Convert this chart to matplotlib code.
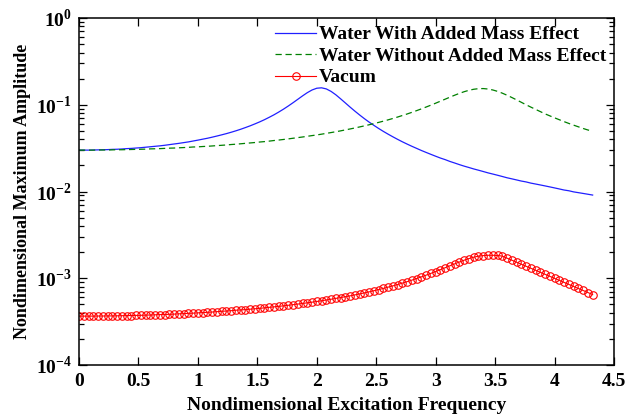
import matplotlib

matplotlib.use("Agg")
import matplotlib.pyplot as plt
import matplotlib.ticker as mticker
from matplotlib import rcParams

rcParams["font.family"] = ["Liberation Serif", "DejaVu Serif"]
rcParams["font.weight"] = "bold"
rcParams["mathtext.fontset"] = "custom"
rcParams["mathtext.rm"] = "Liberation Serif:bold"
rcParams["mathtext.bf"] = "Liberation Serif:bold"
rcParams["axes.unicode_minus"] = False

freq = [
    0.00, 0.04, 0.08, 0.12, 0.16, 0.20, 0.24, 0.28, 0.32, 0.36,
    0.40, 0.44, 0.48, 0.52, 0.56, 0.60, 0.64, 0.68, 0.72, 0.76,
    0.80, 0.84, 0.88, 0.92, 0.96, 1.00, 1.04, 1.08, 1.12, 1.16,
    1.20, 1.24, 1.28, 1.32, 1.36, 1.40, 1.44, 1.48, 1.52, 1.56,
    1.60, 1.64, 1.68, 1.72, 1.76, 1.80, 1.84, 1.88, 1.92, 1.96,
    2.00, 2.04, 2.08, 2.12, 2.16, 2.20, 2.24, 2.28, 2.32, 2.36,
    2.40, 2.44, 2.48, 2.52, 2.56, 2.60, 2.64, 2.68, 2.72, 2.76,
    2.80, 2.84, 2.88, 2.92, 2.96, 3.00, 3.04, 3.08, 3.12, 3.16,
    3.20, 3.24, 3.28, 3.32, 3.36, 3.40, 3.44, 3.48, 3.52, 3.56,
    3.60, 3.64, 3.68, 3.72, 3.76, 3.80, 3.84, 3.88, 3.92, 3.96,
    4.00, 4.04, 4.08, 4.12, 4.16, 4.20, 4.24, 4.28, 4.32,
]

# water, with added mass
amp_added = [
    0.0300, 0.0300, 0.0300, 0.0301, 0.0302, 0.0303, 0.0304, 0.0306, 0.0307, 0.0309,
    0.0312, 0.0314, 0.0317, 0.0320, 0.0324, 0.0328, 0.0332, 0.0336, 0.0341, 0.0347,
    0.0353, 0.0359, 0.0366, 0.0373, 0.0382, 0.0391, 0.0401, 0.0411, 0.0423, 0.0436,
    0.0450, 0.0465, 0.0482, 0.0501, 0.0522, 0.0546, 0.0572, 0.0602, 0.0635, 0.0673,
    0.0717, 0.0766, 0.0824, 0.0890, 0.0967, 0.1055, 0.1155, 0.1265, 0.1378, 0.1480,
    0.1551, 0.1568, 0.1523, 0.1426, 0.1303, 0.1172, 0.1050, 0.0940, 0.0845, 0.0763,
    0.0692, 0.0631, 0.0579, 0.0533, 0.0493, 0.0458, 0.0427, 0.0399, 0.0374, 0.0352,
    0.0332, 0.0314, 0.0297, 0.0282, 0.0268, 0.0255, 0.0243, 0.0233, 0.0222, 0.0213,
    0.0204, 0.0196, 0.0189, 0.0182, 0.0176, 0.0170, 0.0164, 0.0159, 0.0154, 0.0149,
    0.0144, 0.0140, 0.0136, 0.0132, 0.0129, 0.0125, 0.0122, 0.0119, 0.0116, 0.0113,
    0.0110, 0.0107, 0.0104, 0.0102, 0.0099, 0.0097, 0.0095, 0.0093, 0.0091,
]

# water, without added mass
amp_no_added = [
    0.0300, 0.0300, 0.0300, 0.0300, 0.0301, 0.0301, 0.0301, 0.0302, 0.0303, 0.0303,
    0.0304, 0.0305, 0.0306, 0.0307, 0.0308, 0.0310, 0.0311, 0.0312, 0.0314, 0.0316,
    0.0317, 0.0319, 0.0321, 0.0323, 0.0326, 0.0327, 0.0330, 0.0332, 0.0335, 0.0338,
    0.0341, 0.0344, 0.0348, 0.0351, 0.0355, 0.0359, 0.0363, 0.0367, 0.0372, 0.0376,
    0.0381, 0.0387, 0.0392, 0.0398, 0.0404, 0.0411, 0.0418, 0.0425, 0.0433, 0.0441,
    0.0449, 0.0458, 0.0468, 0.0478, 0.0489, 0.0500, 0.0513, 0.0526, 0.0540, 0.0555,
    0.0571, 0.0588, 0.0606, 0.0626, 0.0647, 0.0670, 0.0695, 0.0722, 0.0752, 0.0783,
    0.0818, 0.0856, 0.0897, 0.0942, 0.0990, 0.1043, 0.1100, 0.1160, 0.1224, 0.1289,
    0.1354, 0.1415, 0.1468, 0.1509, 0.1533, 0.1537, 0.1519, 0.1481, 0.1427, 0.1361,
    0.1288, 0.1213, 0.1139, 0.1068, 0.1000, 0.0940, 0.0885, 0.0834, 0.0785, 0.0745,
    0.0707, 0.0672, 0.0639, 0.0609, 0.0582, 0.0557, 0.0533, 0.0512, 0.0495,
]

# vacuum
amp_vacuum = [
    0.000366, 0.000366, 0.000366, 0.000366, 0.000367, 0.000367, 0.000368, 0.000368, 0.000369, 0.000370,
    0.000371, 0.000372, 0.000373, 0.000374, 0.000376, 0.000377, 0.000379, 0.000381, 0.000382, 0.000384,
    0.000386, 0.000389, 0.000391, 0.000394, 0.000396, 0.000399, 0.000402, 0.000405, 0.000408, 0.000412,
    0.000416, 0.000419, 0.000423, 0.000428, 0.000432, 0.000435, 0.000440, 0.000445, 0.000450, 0.000456,
    0.000462, 0.000468, 0.000474, 0.000481, 0.000488, 0.000496, 0.000504, 0.000512, 0.000521, 0.000530,
    0.000540, 0.000550, 0.000562, 0.000573, 0.000586, 0.000599, 0.000613, 0.000627, 0.000643, 0.000660,
    0.000678, 0.000697, 0.000718, 0.000740, 0.000764, 0.000790, 0.000817, 0.000847, 0.000879, 0.000914,
    0.000952, 0.000993, 0.001038, 0.001086, 0.001139, 0.001196, 0.001257, 0.001323, 0.001393, 0.001466,
    0.001541, 0.001616, 0.001687, 0.001749, 0.001799, 0.001825, 0.001840, 0.001840, 0.001830, 0.001800,
    0.001705, 0.001616, 0.001531, 0.001451, 0.001375, 0.001304, 0.001236, 0.001171, 0.001110, 0.001052,
    0.000997, 0.000945, 0.000896, 0.000849, 0.000804, 0.000762, 0.000723, 0.000685, 0.000649,
]

x_ticks = [0, 0.5, 1, 1.5, 2, 2.5, 3, 3.5, 4, 4.5]
x_tick_labels = ["0", "0.5", "1", "1.5", "2", "2.5", "3", "3.5", "4", "4.5"]
y_ticks = [1e-4, 1e-3, 1e-2, 1e-1, 1e0]
y_tick_labels = [r"$10^{-4}$", r"$10^{-3}$", r"$10^{-2}$", r"$10^{-1}$", r"$10^{0}$"]

fig = plt.figure(figsize=(6.34, 4.16), dpi=100)
ax = fig.add_axes([0.1246, 0.1226, 0.8439, 0.8341])

ax.semilogy(freq, amp_added, color="#2020ff", linewidth=0.9,
            label="Water With Added Mass Effect")
ax.semilogy(freq, amp_no_added, color="#008000", linewidth=0.9, linestyle=(0, (5, 3)),
            label="Water Without Added Mass Effect")
ax.semilogy(freq, amp_vacuum, color="#ff0000", linewidth=0.8, marker="o",
            markersize=5.4, markerfacecolor="none", markeredgewidth=0.8,
            label="Vacum")

ax.set_xlim(0, 4.5)
ax.set_ylim(1e-4, 1)
ax.set_xticks(x_ticks)
ax.set_xticklabels(x_tick_labels)
ax.set_yticks(y_ticks)
ax.set_yticklabels(y_tick_labels)
ax.yaxis.set_minor_locator(mticker.LogLocator(base=10, subs=range(2, 10)))
ax.yaxis.set_minor_formatter(mticker.NullFormatter())
ax.tick_params(axis="both", which="both", direction="in", top=True, right=True,
               labelsize=14, width=0.9)
ax.tick_params(which="major", length=6)
ax.tick_params(which="minor", length=3.5)
ax.tick_params(axis="x", pad=6)
ax.tick_params(axis="y", pad=5)
for side in ax.spines.values():
    side.set_linewidth(1.1)

ax.set_xlabel("Nondimensional Excitation Frequency", fontsize=14, fontweight="bold", labelpad=5)
ax.set_ylabel("Nondimensional Maximum Amplitude", fontsize=13, fontweight="bold", labelpad=4)

ax.legend(loc="upper right", frameon=False, handlelength=2.1,
          handletextpad=0.15, labelspacing=0.2, borderaxespad=0.0,
          prop={"weight": "bold", "size": 14})

fig.savefig("out.png", dpi=100)
plt.close(fig)
